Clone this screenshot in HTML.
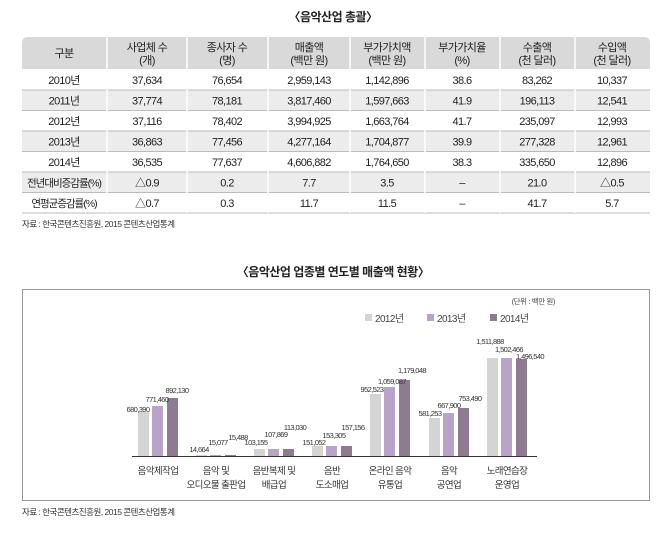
<!DOCTYPE html>
<html><head><meta charset="utf-8"><style>
body{margin:0;background:#fff;width:667px;height:543px;overflow:hidden;font-family:"Liberation Sans","Noto Sans CJK KR",sans-serif;}
</style></head><body>
<svg width="667" height="543" xmlns="http://www.w3.org/2000/svg" font-family="Liberation Sans, Noto Sans CJK KR, sans-serif">
<text x="333" y="21" font-size="12" font-weight="bold" text-anchor="middle" fill="#222" letter-spacing="-0.5">〈음악산업 총괄〉</text>
<path d="M28,37 H644 Q650,37 650,43 V69 H22 V43 Q22,37 28,37Z" fill="#d9d9d9"/>
<g fill="#ececec">
<rect x="22" y="90" width="628" height="20.5"/>
<rect x="22" y="131" width="628" height="20.5"/>
<rect x="22" y="172" width="628" height="20.5"/>
</g>
<g stroke="#bbb" stroke-width="1">
<line x1="22" y1="90" x2="650" y2="90"/><line x1="22" y1="110.5" x2="650" y2="110.5"/>
<line x1="22" y1="131" x2="650" y2="131"/><line x1="22" y1="151.5" x2="650" y2="151.5"/>
<line x1="22" y1="172" x2="650" y2="172"/><line x1="22" y1="192.5" x2="650" y2="192.5"/>
<line x1="22" y1="213" x2="650" y2="213"/>
</g>
<g stroke="#fff" stroke-width="1.5">
<line x1="107" y1="37" x2="107" y2="213"/><line x1="187" y1="37" x2="187" y2="213"/>
<line x1="268" y1="37" x2="268" y2="213"/><line x1="350" y1="37" x2="350" y2="213"/>
<line x1="425" y1="37" x2="425" y2="213"/><line x1="500" y1="37" x2="500" y2="213"/>
<line x1="575" y1="37" x2="575" y2="213"/>
</g>
<g font-size="11" text-anchor="middle" fill="#222" letter-spacing="-0.6">
<text x="64" y="57">구분</text>
<text x="147" y="51">사업체 수</text><text x="147" y="64">(개)</text>
<text x="227" y="51">종사자 수</text><text x="227" y="64">(명)</text>
<text x="309" y="51">매출액</text><text x="309" y="64">(백만 원)</text>
<text x="387" y="51">부가가치액</text><text x="387" y="64">(백만 원)</text>
<text x="462" y="51">부가가치율</text><text x="462" y="64">(%)</text>
<text x="537" y="51">수출액</text><text x="537" y="64">(천 달러)</text>
<text x="612" y="51">수입액</text><text x="612" y="64">(천 달러)</text>
</g>
<g font-size="11" text-anchor="middle" fill="#222" letter-spacing="-0.6">
<g transform="translate(0,84)"><text x="64">2010년</text><text x="147">37,634</text><text x="227">76,654</text><text x="309">2,959,143</text><text x="387">1,142,896</text><text x="462">38.6</text><text x="537">83,262</text><text x="612">10,337</text></g>
<g transform="translate(0,104.5)"><text x="64">2011년</text><text x="147">37,774</text><text x="227">78,181</text><text x="309">3,817,460</text><text x="387">1,597,663</text><text x="462">41.9</text><text x="537">196,113</text><text x="612">12,541</text></g>
<g transform="translate(0,125)"><text x="64">2012년</text><text x="147">37,116</text><text x="227">78,402</text><text x="309">3,994,925</text><text x="387">1,663,764</text><text x="462">41.7</text><text x="537">235,097</text><text x="612">12,993</text></g>
<g transform="translate(0,145.5)"><text x="64">2013년</text><text x="147">36,863</text><text x="227">77,456</text><text x="309">4,277,164</text><text x="387">1,704,877</text><text x="462">39.9</text><text x="537">277,328</text><text x="612">12,961</text></g>
<g transform="translate(0,166)"><text x="64">2014년</text><text x="147">36,535</text><text x="227">77,637</text><text x="309">4,606,882</text><text x="387">1,764,650</text><text x="462">38.3</text><text x="537">335,650</text><text x="612">12,896</text></g>
<g transform="translate(0,186.5)"><text x="64" font-size="10.5" letter-spacing="-1">전년대비증감률(%)</text><text x="147">△0.9</text><text x="227">0.2</text><text x="309">7.7</text><text x="387">3.5</text><text x="462">–</text><text x="537">21.0</text><text x="612">△0.5</text></g>
<g transform="translate(0,207)"><text x="64" font-size="10.5" letter-spacing="-1">연평균증감률(%)</text><text x="147">△0.7</text><text x="227">0.3</text><text x="309">11.7</text><text x="387">11.5</text><text x="462">–</text><text x="537">41.7</text><text x="612">5.7</text></g>
</g>
<text x="22" y="227" font-size="8.5" fill="#333" letter-spacing="-0.5">자료 : 한국콘텐츠진흥원, 2015 콘텐츠산업통계</text>

<text x="333" y="276" font-size="12" font-weight="bold" text-anchor="middle" fill="#222" letter-spacing="-0.5">〈음악산업 업종별 연도별 매출액 현황〉</text>
<rect x="22.5" y="289.5" width="627" height="211" fill="none" stroke="#999" stroke-width="1"/>
<text x="555" y="304" font-size="7.5" text-anchor="end" fill="#444" letter-spacing="-0.4">(단위 : 백만 원)</text>
<g font-size="10" fill="#444" letter-spacing="-0.6">
<rect x="365" y="314" width="7" height="7" fill="#d4d4d4"/><text x="375" y="322">2012년</text>
<rect x="427" y="314" width="7" height="7" fill="#b8a4c9"/><text x="437" y="322">2013년</text>
<rect x="490" y="314" width="7" height="7" fill="#8f7b91"/><text x="500" y="322">2014년</text>
</g>
<line x1="132" y1="456.5" x2="537" y2="456.5" stroke="#333" stroke-width="1"/>
<g font-size="7.5" text-anchor="middle" fill="#333" letter-spacing="-0.6">
<rect x="138" y="412" width="11" height="44" fill="#d4d4d4"/><rect x="152" y="406" width="11" height="50" fill="#b8a4c9"/><rect x="167" y="398" width="11" height="58" fill="#8f7b91"/>
<text x="138" y="412">680,390</text><text x="157" y="402">771,460</text><text x="177" y="393">892,130</text>
<rect x="196" y="455" width="11" height="1" fill="#d4d4d4"/><rect x="210" y="455" width="11" height="1" fill="#b8a4c9"/><rect x="225" y="455" width="11" height="1" fill="#8f7b91"/>
<text x="199" y="452">14,664</text><text x="218" y="445">15,077</text><text x="238" y="440">15,488</text>
<rect x="254" y="449" width="11" height="7" fill="#d4d4d4"/><rect x="268" y="449" width="11" height="7" fill="#b8a4c9"/><rect x="283" y="449" width="11" height="7" fill="#8f7b91"/>
<text x="256" y="445">103,155</text><text x="276" y="437">107,869</text><text x="295" y="430">113,030</text>
<rect x="312" y="446" width="11" height="10" fill="#d4d4d4"/><rect x="326" y="446" width="11" height="10" fill="#b8a4c9"/><rect x="341" y="446" width="11" height="10" fill="#8f7b91"/>
<text x="314" y="445">151,052</text><text x="334" y="438">153,305</text><text x="353" y="430">157,156</text>
<rect x="370" y="394" width="11" height="62" fill="#d4d4d4"/><rect x="384" y="387" width="11" height="69" fill="#b8a4c9"/><rect x="399" y="380" width="11" height="76" fill="#8f7b91"/>
<text x="372" y="392">952,523</text><text x="392" y="384">1,059,087</text><text x="412" y="373">1,179,048</text>
<rect x="429" y="418" width="11" height="38" fill="#d4d4d4"/><rect x="443" y="413" width="11" height="43" fill="#b8a4c9"/><rect x="458" y="408" width="11" height="48" fill="#8f7b91"/>
<text x="430" y="416">581,253</text><text x="449" y="408">667,900</text><text x="470" y="401">753,490</text>
<rect x="487" y="358" width="11" height="98" fill="#d4d4d4"/><rect x="501" y="358" width="11" height="98" fill="#b8a4c9"/><rect x="516" y="359" width="11" height="97" fill="#8f7b91"/>
<text x="490" y="344">1,511,888</text><text x="509" y="352">1,502,466</text><text x="530" y="359">1,496,540</text>
</g>
<g font-size="9.5" text-anchor="middle" fill="#333" letter-spacing="-0.6">
<text x="158" y="474">음악제작업</text>
<text x="216" y="474">음악 및</text><text x="216" y="488">오디오물 출판업</text>
<text x="274" y="474">음반복제 및</text><text x="274" y="488">배급업</text>
<text x="332" y="474">음반</text><text x="332" y="488">도소매업</text>
<text x="390" y="474">온라인 음악</text><text x="390" y="488">유통업</text>
<text x="449" y="474">음악</text><text x="449" y="488">공연업</text>
<text x="507" y="474">노래연습장</text><text x="507" y="488">운영업</text>
</g>
<text x="22" y="515" font-size="8.5" fill="#333" letter-spacing="-0.5">자료 : 한국콘텐츠진흥원, 2015 콘텐츠산업통계</text>
</svg>
</body></html>
